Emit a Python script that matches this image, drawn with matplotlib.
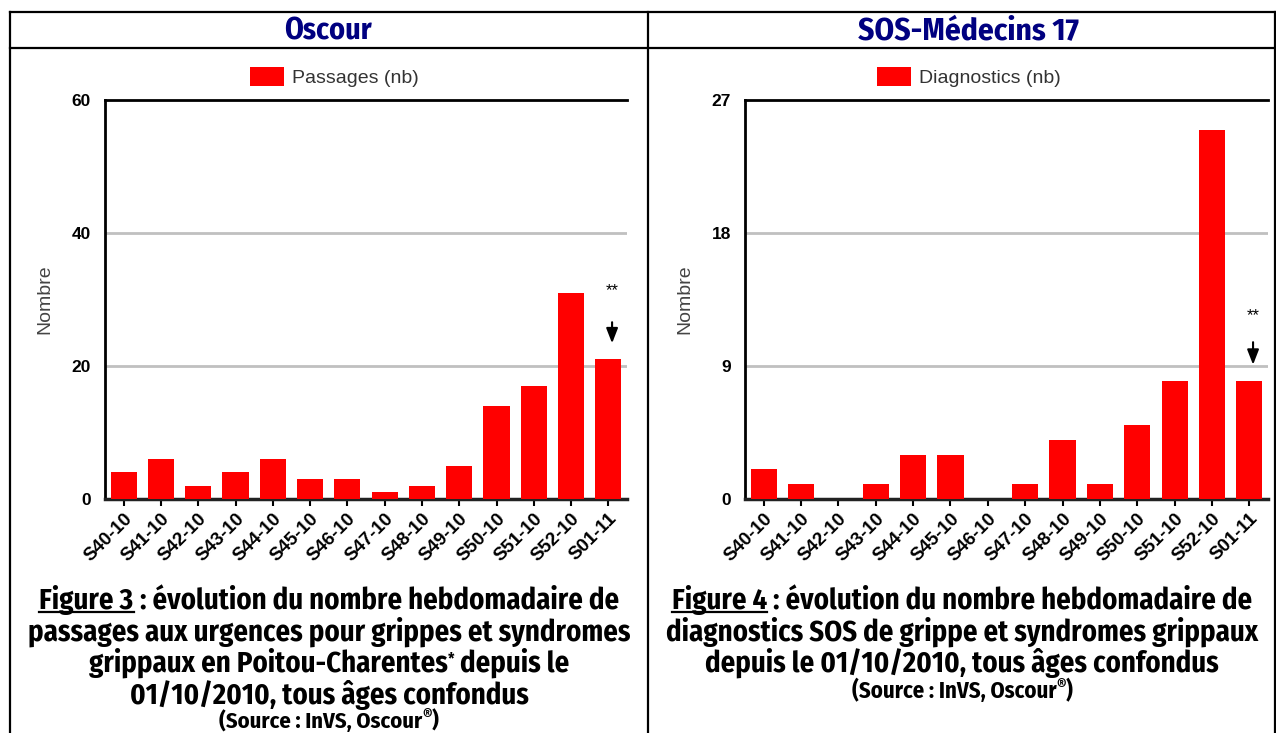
import matplotlib
matplotlib.use("Agg")
import matplotlib.pyplot as plt
from matplotlib.lines import Line2D
import numpy as np

weeks = ["S40-10", "S41-10", "S42-10", "S43-10", "S44-10", "S45-10", "S46-10",
         "S47-10", "S48-10", "S49-10", "S50-10", "S51-10", "S52-10", "S01-11"]
oscour = [4, 6, 2, 4, 6, 3, 3, 1, 2, 5, 14, 17, 31, 21]
sos = [2, 1, 0, 1, 3, 3, 0, 1, 4, 1, 5, 8, 25, 8]
oscour_ticks = [0, 20, 40, 60]
sos_ticks = [0, 9, 18, 27]

W, H = 1276, 733
fig = plt.figure(figsize=(W / 100, H / 100), dpi=100)
fig.patch.set_facecolor("white")

CAP_FONT = ["Fira Sans Condensed", "PT Sans Narrow", "DejaVu Sans"]
CHART_FONT = ["Liberation Sans", "DejaVu Sans"]

def fx(x):
    return x / W

def fy(y):
    return 1 - y / H

# outer frame
for x in (10, 648, 1275):
    fig.add_artist(Line2D([fx(x), fx(x)], [fy(12), fy(733)], color="black", lw=1.6))
for y in (12, 48):
    fig.add_artist(Line2D([fx(10), fx(1276)], [fy(y), fy(y)], color="black", lw=1.6))

renderer = fig.canvas.get_renderer()

def fit_text(x, y, s, width_px, **kw):
    t = fig.text(fx(x), fy(y), s, ha="center", va="baseline", fontsize=20,
                 fontstretch="condensed", **kw)
    w = t.get_window_extent(renderer).width
    t.set_fontsize(20 * width_px / w)
    return t

fit_text(328, 40, "Oscour", 88, color="#000080", fontweight="bold", family=CAP_FONT)
fit_text(968, 40, "SOS-Médecins 17", 221, color="#000080", fontweight="bold", family=CAP_FONT)

def make_pieces(pieces, size):
    texts, widths = [], []
    for s, rs, dy, ul in pieces:
        t = fig.text(0, 0, s, fontsize=size * rs, fontweight="bold", family=CAP_FONT,
                     fontstretch="condensed", ha="left", va="baseline", color="black")
        texts.append(t)
        widths.append(t.get_window_extent(renderer).width)
    return texts, widths

def draw_pieces(xc, y, pieces, size, target_w=None):
    texts, widths = make_pieces(pieces, size)
    if target_w is not None:
        scale = target_w / sum(widths)
        for t, (s, rs, dy, ul) in zip(texts, pieces):
            t.set_fontsize(size * rs * scale)
        widths = [t.get_window_extent(renderer).width for t in texts]
    total = sum(widths)
    x0 = xc - total / 2
    for (s, rs, dy, ul), t, w in zip(pieces, texts, widths):
        t.set_position((fx(x0), fy(y - dy)))
        if ul:
            fig.add_artist(Line2D([fx(x0), fx(x0 + w)], [fy(y + 3), fy(y + 3)],
                                  color="black", lw=1.6))
        x0 += w
    return total

def caption(xc, lines, ys, src_y, target_w, src_w):
    texts, widths = make_pieces(lines[0], 20)
    for t in texts:
        t.remove()
    size = 20 * target_w / sum(widths)
    for pieces, y in zip(lines, ys):
        draw_pieces(xc, y, pieces, size)
    draw_pieces(xc, src_y, [("(Source : InVS, Oscour", 0.62, 0, False),
                            ("®", 0.45, 7, False), (")", 0.62, 0, False)], size, src_w)

caption(329, [
    [("Figure 3", 1, 0, True), (" : évolution du nombre hebdomadaire de", 1, 0, False)],
    [("passages aux urgences pour grippes et syndromes", 1, 0, False)],
    [("grippaux en Poitou-Charentes", 1, 0, False), ("*", 0.55, 9, False), (" depuis le", 1, 0, False)],
    [("01/10/2010, tous âges confondus", 1, 0, False)],
], [609, 641, 672, 704], 728, 580, 220)

caption(962, [
    [("Figure 4", 1, 0, True), (" : évolution du nombre hebdomadaire de", 1, 0, False)],
    [("diagnostics SOS de grippe et syndromes grippaux", 1, 0, False)],
    [("depuis le 01/10/2010, tous âges confondus", 1, 0, False)],
], [609, 641, 672], 698, 580, 221)

def panel(left, right, vals, ticks, legend_label, legend_x, star_y, arr_from, arr_to):
    ax = fig.add_axes([fx(left), fy(499), fx(right - left), fy(100) - fy(499)])
    x = np.arange(len(weeks))
    ax.bar(x, vals, width=0.7, color="#ff0000", zorder=3, label=legend_label)
    ax.set_xlim(-0.5, len(weeks) - 0.5)
    ax.set_ylim(ticks[0], ticks[-1])
    ax.set_yticks(ticks)
    ax.set_yticklabels([str(t) for t in ticks], fontsize=12.5, fontweight="bold",
                       family=CHART_FONT)
    ax.tick_params(axis="y", length=0, pad=10)
    ax.set_xticks(x)
    ax.set_xticklabels(weeks, rotation=45, ha="right", rotation_mode="anchor",
                       fontsize=13.5, fontweight="bold", family=CHART_FONT)
    ax.tick_params(axis="x", length=5, width=1.5, direction="out", pad=3)
    for t in ticks[1:-1]:
        ax.axhline(t, color="#c0c0c0", lw=2, zorder=1)
    for s in ("left", "top"):
        ax.spines[s].set_linewidth(2)
        ax.spines[s].set_color("black")
    ax.spines["bottom"].set_linewidth(2.5)
    ax.spines["bottom"].set_color("#222222")
    ax.spines["right"].set_visible(False)
    ax.set_ylabel("Nombre", fontsize=14, family=CHART_FONT, color="#444444")
    ax.yaxis.set_label_coords(-52 / (right - left), 0.5)
    leg = ax.legend(loc="lower left", bbox_to_anchor=(legend_x, 1.032), frameon=False,
                    prop={"family": CHART_FONT, "size": 14}, handlelength=1.75,
                    handleheight=1.15, handletextpad=0.4, borderaxespad=0,
                    borderpad=0)
    for t in leg.get_texts():
        t.set_color("#333333")
    n = len(weeks) - 1
    ax.text(n + 0.1, star_y, "**", ha="center", va="center", fontsize=12, family=CHART_FONT)
    ax.annotate("", xy=(n + 0.1, arr_to), xytext=(n + 0.1, arr_from),
                arrowprops=dict(arrowstyle="-|>,head_width=0.35,head_length=0.9",
                                color="black", lw=1.5))
    return ax

panel(105, 627, oscour, oscour_ticks, "Passages (nb)", 0.278, 31.3, 27.0, 23.0)
panel(745, 1268, sos, sos_ticks, "Diagnostics (nb)", 0.252, 12.4, 10.8, 8.9)

fig.savefig("out.png", dpi=100, facecolor="white")
